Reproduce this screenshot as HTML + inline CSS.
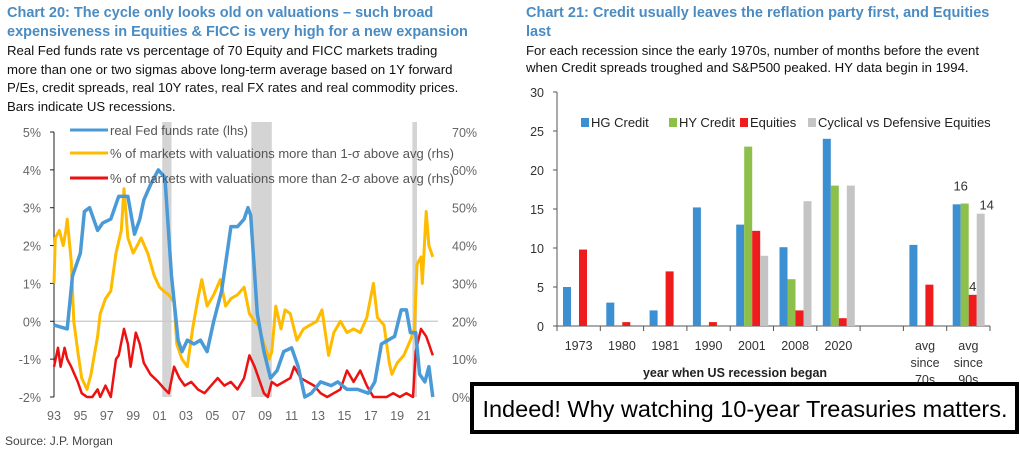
<!DOCTYPE html>
<html><head><meta charset="utf-8">
<style>
body{margin:0;background:#fff;}
svg{display:block;font-family:"Liberation Sans",Arial,sans-serif;}
.tt{fill:#4a8bc2;font-weight:bold;font-size:14.5px;}
.bd{fill:#111;font-size:13.2px;}
.tk{fill:#666;font-size:12.5px;}
.tk2{fill:#333;font-size:12.5px;}
</style></head><body>
<svg id="c" width="1020" height="453" viewBox="0 0 1020 453">
<text class="tt" x="7" y="17">Chart 20: The cycle only looks old on valuations – such broad</text>
<text class="tt" x="7" y="36">expensiveness in Equities &amp; FICC is very high for a new expansion</text>
<text class="bd" x="7" y="55">Real Fed funds rate vs percentage of 70 Equity and FICC markets trading</text>
<text class="bd" x="7" y="74">more than one or two sigmas above long-term average based on 1Y forward</text>
<text class="bd" x="7" y="92">P/Es, credit spreads, real 10Y rates, real FX rates and real commodity prices.</text>
<text class="bd" x="7" y="111">Bars indicate US recessions.</text>
<text class="tt" x="526" y="17">Chart 21: Credit usually leaves the reflation party first, and Equities</text>
<text class="tt" x="526" y="36">last</text>
<text class="bd" x="526" y="55">For each recession since the early 1970s, number of months before the event</text>
<text class="bd" x="526" y="72">when Credit spreads troughed and S&amp;P500 peaked. HY data begin in 1994.</text>
<text x="5" y="445" style="fill:#444;font-size:12px">Source: J.P. Morgan</text>
<g id="left"></g>
<g id="right"></g>
<rect x="472" y="384" width="545" height="48" fill="#fff" stroke="#000" stroke-width="4"/>
<text x="745" y="417" text-anchor="middle" style="font-size:23.5px;fill:#000">Indeed! Why watching 10-year Treasuries matters.</text>
</svg>
<script>
// ---- Left chart data ----
const recessions = [[2001.2,2001.9],[2007.95,2009.5],[2020.15,2020.5]];
const lhsTicks = [5,4,3,2,1,0,-1,-2];
const lhsLabels = ["5%","4%","3%","2%","1%","0%","-1%","-2%"];
const rhsTicks = [70,60,50,40,30,20,10,0];
const rhsLabels = ["70%","60%","50%","40%","30%","20%","10%","0%"];
const xYears = [1993,1995,1997,1999,2001,2003,2005,2007,2009,2011,2013,2015,2017,2019,2021];
const xLabels = ["93","95","97","99","01","03","05","07","09","11","13","15","17","19","21"];
const fedDates = [1993.0,1994.0,1994.4,1995.0,1995.3,1995.7,1996.3,1996.7,1997.3,1997.9,1998.6,1999.1,1999.5,1999.8,2000.3,2000.9,2001.4,2001.9,2002.4,2002.7,2003.1,2003.6,2004.1,2004.6,2005.1,2005.7,2006.2,2006.4,2006.9,2007.4,2007.7,2007.9,2008.4,2008.9,2009.4,2009.9,2010.4,2011.0,2011.5,2012.0,2012.5,2013.2,2014.0,2014.5,2015.2,2016.0,2016.8,2017.3,2017.8,2018.3,2018.8,2019.3,2019.7,2020.0,2020.4,2020.7,2021.1,2021.4,2021.7];
const fedVals = [-0.1,-0.2,1.2,1.8,2.9,3.0,2.4,2.6,2.7,3.3,3.3,2.3,2.7,3.2,3.6,4.0,3.8,1.2,-0.5,-0.8,-0.5,-0.6,-0.5,-0.8,0.0,0.8,2.0,2.5,2.5,2.7,3.0,2.8,0.2,-0.8,-1.5,-1.3,-0.8,-0.7,-1.2,-2.0,-1.9,-1.6,-1.7,-1.6,-1.8,-1.8,-1.9,-1.6,-0.6,-0.5,-0.4,0.3,0.3,-0.3,-0.3,-1.4,-1.6,-1.2,-2.0];
const y1Dates = [1993.0,1993.1,1993.4,1993.7,1993.9,1994.0,1994.3,1994.5,1994.8,1995.1,1995.5,1995.8,1996.0,1996.3,1996.5,1996.9,1997.3,1997.7,1998.1,1998.3,1998.6,1999.0,1999.3,1999.6,2000.1,2000.6,2001.0,2001.3,2001.7,2002.1,2002.3,2002.7,2003.1,2003.5,2003.9,2004.2,2004.6,2005.1,2005.6,2006.0,2006.4,2006.9,2007.4,2007.8,2008.2,2008.5,2008.9,2009.3,2009.5,2009.8,2010.2,2010.5,2010.9,2011.4,2011.9,2012.4,2012.9,2013.3,2013.8,2014.2,2014.7,2015.2,2015.7,2016.2,2016.7,2017.2,2017.5,2018.0,2018.4,2018.6,2019.0,2019.5,2020.0,2020.3,2020.5,2020.8,2020.9,2021.2,2021.4,2021.7];
const y1Vals = [30,42,44,40,44,47,36,20,12,5,2,6,10,16,22,26,28,38,44,55,42,38,40,42,38,32,29,28,27,25,14,10,8,18,26,31,24,27,31,24,26,27,29,22,20,19,14,10,12,24,18,23,22,15,18,19,20,23,11,17,20,17,18,17,21,30,21,19,9,6,9,11,15,18,35,37,30,49,40,37];
const y2Dates = [1993.0,1993.3,1993.5,1993.8,1994.0,1994.3,1994.8,1995.1,1995.5,1995.9,1996.3,1996.5,1996.9,1997.3,1997.7,1997.9,1998.3,1998.6,1998.8,1999.2,1999.5,1999.8,2000.3,2000.9,2001.4,2001.7,2002.1,2002.5,2002.9,2003.4,2003.9,2004.4,2004.9,2005.4,2005.9,2006.4,2006.9,2007.4,2007.8,2008.2,2008.5,2008.9,2009.2,2009.5,2009.9,2010.4,2010.9,2011.2,2011.7,2012.2,2012.7,2013.2,2013.7,2014.2,2014.7,2015.2,2015.7,2016.2,2016.7,2017.2,2017.7,2018.2,2018.7,2019.2,2019.7,2020.2,2020.4,2020.8,2021.2,2021.4,2021.7];
const y2Vals = [8,13,8,13,10,8,4,1,0,0,2,0,3,0,10,11,18,14,8,17,14,9,6,4,2,1,8,5,3,4,2,1,3,5,3,4,2,5,11,8,5,1,0,4,3,4,5,8,5,4,3,1,0,1,2,7,4,7,3,0,0,0,1,0,1,0,12,18,16,14,11];

// ---- Right chart data ----
const cats = ["1973","1980","1981","1990","2001","2008","2020","","avg|since|70s","avg|since|90s"];
const hg = [5,3,2,15.2,13,10.1,24,null,10.4,15.6];
const hy = [null,null,null,null,23,6,18,null,null,15.7];
const eq = [9.8,0.5,7,0.5,12.2,2,1,null,5.3,4];
const cyc = [null,null,null,null,9,16,18,null,null,14.4];
const yTicksR = [0,5,10,15,20,25,30];
const seriesNames = ["HG Credit","HY Credit","Equities","Cyclical vs Defensive Equities"];
const seriesColors = ["#3c8fd0","#8cc04a","#ee1c1c","#c4c4c4"];
const valueLabels = [[9,0,"16"],[9,2,"4"],[9,3,"14"]];

const NS="http://www.w3.org/2000/svg";
function mk(tag,attrs,parent,txt){const e=document.createElementNS(NS,tag);for(const k in attrs)e.setAttribute(k,attrs[k]);if(txt!==undefined)e.textContent=txt;parent.appendChild(e);return e;}

const L={x0:54,x1:438,yTop:132,yBot:397};
const xL=y=>L.x0+(y-1993)*13.2;
const yLhs=v=>L.yTop+(5-v)*(L.yBot-L.yTop)/7;
const yRhs=v=>L.yBot-v*(L.yBot-L.yTop)/70;
const lg=document.getElementById('left');
recessions.forEach(r=>{const e=mk('rect',{x:xL(r[0]),y:L.yTop-10,width:xL(r[1])-xL(r[0]),height:L.yBot-L.yTop+10,fill:'#d4d4d4'},lg);

});
{const e=mk('line',{x1:L.x0,x2:L.x1,y1:yLhs(0),y2:yLhs(0),stroke:'#c8c8c8','stroke-width':1.2},lg);

}
{const e=mk('line',{x1:L.x0,x2:L.x0,y1:L.yTop,y2:L.yBot,stroke:'#222','stroke-width':1},lg);

}
lhsTicks.forEach((t,i)=>{mk('line',{x1:L.x0-4,x2:L.x0,y1:yLhs(t),y2:yLhs(t),stroke:'#222'},lg);
const e=mk('text',{x:41,y:yLhs(t)+5,'text-anchor':'end',class:'tk'},lg,lhsLabels[i]);

});
rhsTicks.forEach((t,i)=>{const e=mk('text',{x:452,y:yRhs(t)+5,class:'tk'},lg,rhsLabels[i]);

});
xYears.forEach((t,i)=>{const e=mk('text',{x:xL(t),y:420,'text-anchor':'middle',class:'tk'},lg,xLabels[i]);

});
function line(dates,vals,ys,color,w,name){const d=dates.map((t,i)=>(i?'L':'M')+xL(t).toFixed(1)+','+ys(vals[i]).toFixed(1)).join('');
const e=mk('path',{d:d,fill:'none',stroke:color,'stroke-width':w,'stroke-linejoin':'round'},lg);

}
line(y2Dates,y2Vals,yRhs,'#ee1111',2.5,'two-sigma-line');
line(y1Dates,y1Vals,yRhs,'#ffbb00',3,'one-sigma-line');
line(fedDates,fedVals,yLhs,'#4a9ad8',3.5,'fed-funds-line');
const legL=[['#4a9ad8','real Fed funds rate (lhs)',130],['#ffbb00','% of markets with valuations more than 1-σ above avg (rhs)',153],['#ee1111','% of markets with valuations more than 2-σ above avg (rhs)',178]];
legL.forEach(l=>{mk('line',{x1:70,x2:108,y1:l[2],y2:l[2],stroke:l[0],'stroke-width':3},lg);
const e=mk('text',{x:110,y:l[2]+5,style:'fill:#555;font-size:13px'},lg,l[1]);

});

const R={x0:557,x1:990,yTop:92,yBot:326};
const rg=document.getElementById('right');
const bw=(R.x1-R.x0)/cats.length;
const yR=v=>R.yBot-v*(R.yBot-R.yTop)/30;
{const e=mk('line',{x1:R.x0,x2:R.x0,y1:R.yTop,y2:R.yBot,stroke:'#555'},rg);

}
{const e=mk('line',{x1:R.x0,x2:R.x1,y1:R.yBot,y2:R.yBot,stroke:'#555'},rg);

}
yTicksR.forEach(t=>{mk('line',{x1:R.x0-4,x2:R.x0,y1:yR(t),y2:yR(t),stroke:'#555'},rg);
const e=mk('text',{x:544,y:yR(t)+5,'text-anchor':'end',class:'tk2'},rg,String(t));

});
for(let i=0;i<=cats.length;i++)mk('line',{x1:R.x0+i*bw,x2:R.x0+i*bw,y1:R.yBot,y2:R.yBot+5,stroke:'#555'},rg);
const allSeries=[hg,hy,eq,cyc];
cats.forEach((c,i)=>{
  allSeries.forEach((s,k)=>{if(s[i]==null)return;
    const e=mk('rect',{x:R.x0+i*bw+6+k*8,y:yR(s[i]),width:8,height:R.yBot-yR(s[i]),fill:seriesColors[k]},rg);
    
    });
  c.split('|').forEach((p,j)=>{if(!p)return;const e=mk('text',{x:R.x0+(i+0.5)*bw,y:350+j*17,'text-anchor':'middle',class:'tk2'},rg,p);
    
    });
});
valueLabels.forEach(v=>{const i=v[0],k=v[1];const val=allSeries[k][i];
  const xx=k==0?R.x0+i*bw+6+8:R.x0+i*bw+6+k*8+4+(k==3?6:0);
  const e=mk('text',{x:xx,y:yR(val)-(k==0?14:4),'text-anchor':'middle',style:'fill:#333;font-size:13px'},rg,v[2]);
  
  });
{const e=mk('text',{x:735,y:377,'text-anchor':'middle',style:'fill:#222;font-size:12.5px;font-weight:bold'},rg,'year when US recession began');

}
const legX=[581,669,740,808];
seriesNames.forEach((n,k)=>{mk('rect',{x:legX[k],y:118,width:8,height:9,fill:seriesColors[k]},rg);
const e=mk('text',{x:legX[k]+10,y:127,style:'fill:#222;font-size:13px'},rg,n);

});
</script>
</body></html>
